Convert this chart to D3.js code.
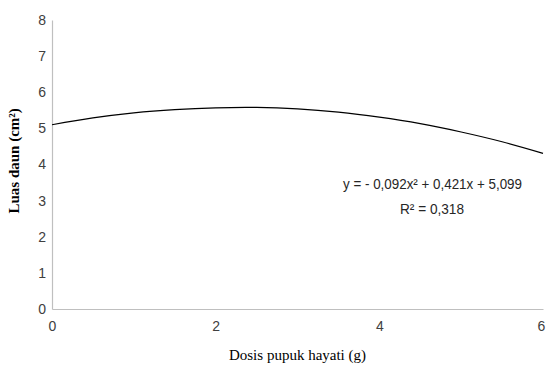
<!DOCTYPE html>
<html>
<head>
<meta charset="utf-8">
<script src="https://cdn.jsdelivr.net/npm/d3@7"></script>
<style>
  body { margin: 0; background: #fff; }
  .tick text { font-family: "Liberation Sans", Arial, sans-serif; font-size: 14px; fill: #404040; }
</style>
</head>
<body>
<div id="chart-area"></div>
<script>
const width = 548,
  height = 372;

const dosis = [0, 0.5, 1, 1.5, 2, 2.5, 3, 3.5, 4, 4.5, 5, 5.5, 6];
const luasDaun = [5.10, 5.29, 5.43, 5.52, 5.57, 5.58, 5.54, 5.45, 5.31, 5.13, 4.90, 4.63, 4.31];
const xTicks = [0, 2, 4, 6];
const yTicks = [0, 1, 2, 3, 4, 5, 6, 7, 8];

const margin = { top: 20, right: 5, bottom: 63, left: 52 };

const x = d3.scaleLinear().domain([0, 6]).range([margin.left, width - margin.right]);
const y = d3.scaleLinear().domain([0, 8]).range([height - margin.bottom, margin.top]);

const svg = d3.select("#chart-area").append("svg")
  .attr("width", width)
  .attr("height", height);

const xAxis = svg.append("g")
  .attr("transform", `translate(0,${y(0)})`)
  .call(d3.axisBottom(x).tickValues(xTicks).tickFormat(d3.format("d")).tickSize(0).tickPadding(12));
xAxis.select(".domain").attr("stroke", "#bfbfbf").attr("stroke-width", 1.2);
xAxis.selectAll(".tick text").filter(d => d === 6).attr("dx", "-0.15em");

const yAxis = svg.append("g")
  .attr("transform", `translate(${x(0)},0)`)
  .call(d3.axisLeft(y).tickValues(yTicks).tickFormat(d3.format("d")).tickSize(0).tickPadding(14));
yAxis.select(".domain").attr("stroke", "#bfbfbf").attr("stroke-width", 1.2);
yAxis.selectAll(".tick text").attr("text-anchor", "middle").attr("dx", "0.3em");

const line = d3.line()
  .x((d, i) => x(dosis[i]))
  .y(d => y(d))
  .curve(d3.curveCatmullRom);

svg.append("path")
  .datum(luasDaun)
  .attr("fill", "none")
  .attr("stroke", "#000")
  .attr("stroke-width", 1.2)
  .attr("d", line);

// trendline equation
const eqFont = "'Liberation Sans', Arial, sans-serif";
svg.append("text")
  .attr("x", 343).attr("y", 189)
  .attr("textLength", 179)
  .attr("lengthAdjust", "spacingAndGlyphs")
  .style("font-family", eqFont)
  .style("font-size", "14px")
  .attr("fill", "#262626")
  .text("y = - 0,092x² + 0,421x + 5,099");

svg.append("text")
  .attr("x", 400).attr("y", 214)
  .attr("textLength", 64)
  .attr("lengthAdjust", "spacingAndGlyphs")
  .style("font-family", eqFont)
  .style("font-size", "14px")
  .attr("fill", "#262626")
  .text("R² = 0,318");

// axis titles
svg.append("text")
  .attr("x", (x(0) + x(6)) / 2).attr("y", 360)
  .attr("text-anchor", "middle")
  .style("font-family", "'Liberation Serif', serif")
  .style("font-size", "15px")
  .attr("fill", "#000")
  .text("Dosis pupuk hayati (g)");

svg.append("text")
  .attr("transform", `translate(19,${y(4.1)}) rotate(-90)`)
  .attr("text-anchor", "middle")
  .style("font-family", "'Liberation Serif', serif")
  .style("font-size", "15px")
  .style("font-weight", "bold")
  .attr("fill", "#000")
  .text("Luas daun (cm²)");
</script>
</body>
</html>
